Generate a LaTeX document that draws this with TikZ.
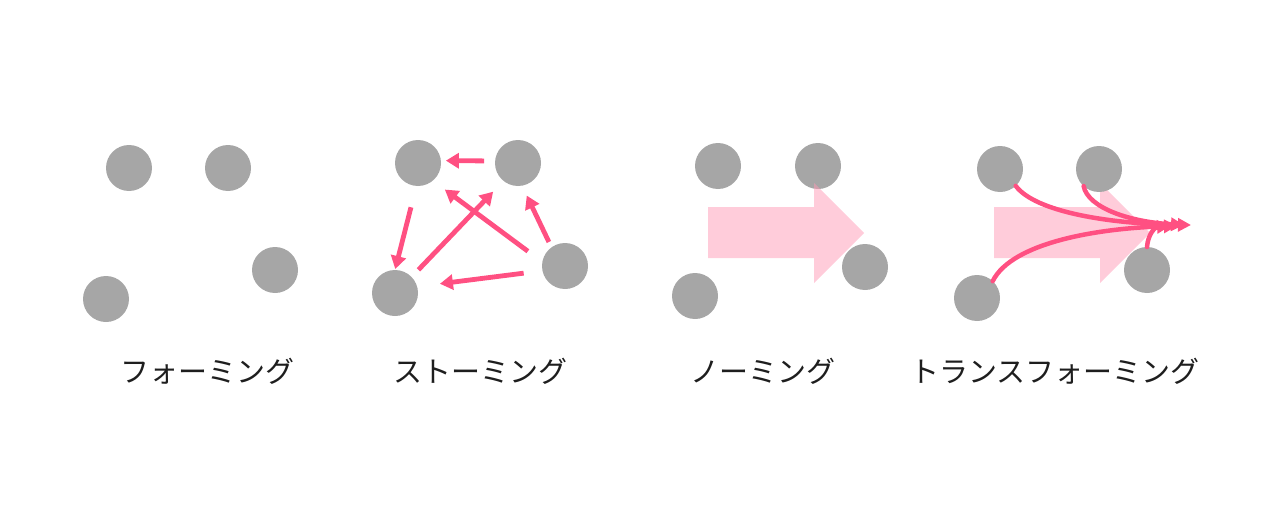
\documentclass[tikz,border=0pt]{standalone}
\usepackage{fontspec}
\newfontfamily\jpfont{Noto Sans CJK JP}
\usetikzlibrary{arrows.meta}
\definecolor{dotgray}{RGB}{166,166,166}
\definecolor{lnpink}{RGB}{255,80,130}
\definecolor{bgpink}{RGB}{255,204,218}
\definecolor{bgpinkbase}{RGB}{255,153,181}
\definecolor{txt}{RGB}{30,30,30}
\tikzset{
  dot/.style={circle,fill=dotgray,draw=none,minimum size=46pt,inner sep=0pt,outer sep=0pt},
  sarrow/.style={draw=lnpink,line width=4.8pt,-{Triangle[length=13pt,width=15pt]}},
  carrow/.style={draw=lnpink,line width=4.5pt,line cap=round,-{Triangle[length=13pt,width=13pt]}},
  label/.style={font=\jpfont\fontsize{29pt}{34pt}\selectfont,text=txt,inner sep=0pt},
}
\begin{document}
\begin{tikzpicture}[x=1pt,y=-1pt]
\useasboundingbox (0,0) rectangle (1280,519);
% Forming
\node[dot] (f1) at (129,168) {};
\node[dot] (f2) at (228,168) {};
\node[dot] (f3) at (275,270) {};
\node[dot] (f4) at (106,299) {};
\node[label] (fl) at (207,371) {フォーミング};
% Storming
\node[dot] (s1) at (418,163) {};
\node[dot] (s2) at (518,163) {};
\node[dot] (s3) at (565,266) {};
\node[dot] (s4) at (395,293) {};
\draw[sarrow,shorten <=11pt,shorten >=5pt] (s2.175) -- (s1.6);
\draw[sarrow,shorten <=22pt,shorten >=1pt] (s1.-94) -- (s4.90);
\draw[sarrow,shorten <=10pt,shorten >=15pt] (s4.44) -- (s2.-129);
\draw[sarrow,shorten <=18pt,shorten >=15pt] (s3.170) -- (s1.-50);
\draw[sarrow,shorten <=6pt,shorten >=11pt] (s3.126) -- (s2.-80);
\draw[sarrow,shorten <=19pt,shorten >=23pt] (s3.-168) -- (s4.16);
\node[label] (sl) at (480,371) {ストーミング};
% Norming
\node[dot] (n1) at (718,166) {};
\node[dot] (n2) at (818,166) {};
\node[dot] (n4) at (695,296) {};
\fill[bgpinkbase,fill opacity=0.5] (708,207) -- (814,207) -- (814,183) -- (864,233) -- (814,283) -- (814,258) -- (708,258) -- cycle;
\node[dot] (n3) at (865,267) {};
\node[label] (nl) at (763,371) {ノーミング};
% Transforming
\fill[bgpink] (994,207) -- (1100,207) -- (1100,183) -- (1150,233) -- (1100,283) -- (1100,258) -- (994,258) -- cycle;
\node[dot] (t1) at (1000,169) {};
\node[dot] (t2) at (1099,169) {};
\node[dot] (t3) at (1147,270) {};
\node[dot] (t4) at (977,298) {};
\coordinate (ta) at (1191,225);
\coordinate (tb) at (1184,225);
\coordinate (tc) at (1177,226);
\coordinate (td) at (1170,226);
\draw[carrow] (t1.-47) .. controls (1035,212) and (1110,224) .. (ta);
\draw[carrow] (t2.-132) .. controls (1088,208) and (1130,222) .. (tb);
\draw[carrow] (t4.47) .. controls (1012,242) and (1100,228) .. (tc);
\draw[carrow] (t3.90) .. controls (1148,234) and (1155,227) .. (td);
\node[label] (tl) at (1055,371) {トランスフォーミング};
\end{tikzpicture}
\end{document}
